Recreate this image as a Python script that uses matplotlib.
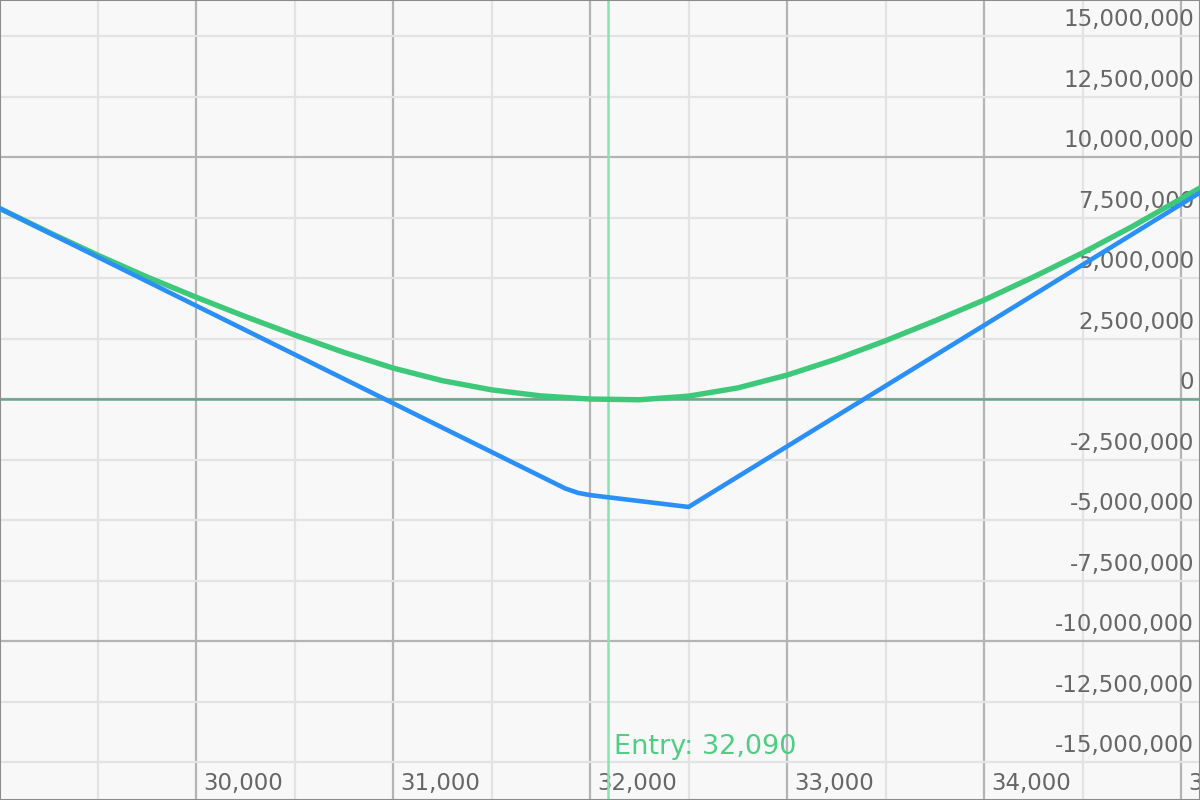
import matplotlib
matplotlib.use("Agg")
import matplotlib.pyplot as plt
from matplotlib.ticker import MultipleLocator

# underlying price grid and the two P&L curves (values in millions)
prices_now = [29000, 29250, 29500, 29750, 30000, 30250, 30500, 30750, 31000,
              31250, 31500, 31750, 32000, 32250, 32500, 32750, 33000, 33250,
              33500, 33750, 34000, 34250, 34500, 34750, 35000, 35100]
pnl_now = [7.89, 6.90, 5.95, 5.05, 4.21, 3.41, 2.65, 1.93, 1.28,
           0.76, 0.38, 0.13, 0.00, -0.03, 0.12, 0.46, 0.99, 1.65,
           2.41, 3.23, 4.09, 5.04, 6.04, 7.12, 8.28, 8.74]

prices_exp = [29000, 31875, 31940, 32000, 32500, 35100]
pnl_exp = [7.89, -3.70, -3.88, -3.97, -4.46, 8.55]

entry_price = 32090
y_labels = [-15, -12.5, -10, -7.5, -5, -2.5, 0, 2.5, 5, 7.5, 10, 12.5, 15]
x_labels = [30000, 31000, 32000, 33000, 34000, 35000]

fig = plt.figure(figsize=(12, 8), dpi=100)
ax = fig.add_axes([0, 0, 1, 1])
ax.set_facecolor("#f8f8f8")
fig.patch.set_facecolor("#f8f8f8")

ax.set_xlim(29005, 35096)
ax.set_ylim(-16.57, 16.49)

# grid: darker every 1000 / 10M, lighter every 500 / 2.5M
ax.xaxis.set_major_locator(MultipleLocator(1000))
ax.xaxis.set_minor_locator(MultipleLocator(500))
ax.yaxis.set_major_locator(MultipleLocator(10))
ax.yaxis.set_minor_locator(MultipleLocator(2.5))
ax.grid(which="major", color="#b4b4b4", lw=1.6, zorder=0)
ax.grid(which="minor", color="#e3e3e3", lw=1.6, zorder=0)
ax.set_axisbelow(True)
ax.tick_params(which="both", length=0, labelbottom=False, labelleft=False)

for s in ax.spines.values():
    s.set_color("#8c8c8c")
    s.set_linewidth(1.5)

# tick labels drawn inside the plot area
for v in y_labels:
    ax.annotate(f"{v * 1e6:,.0f}", xy=(1, v), xycoords=("axes fraction", "data"),
                xytext=(-6, 5), textcoords="offset pixels", ha="right", va="bottom",
                fontsize=16.5, color="#666666", zorder=1)
for p in x_labels:
    ax.annotate(f"{p:,}", xy=(p, 0), xycoords=("data", "axes fraction"),
                xytext=(7, 5), textcoords="offset pixels", ha="left", va="bottom",
                fontsize=16.5, color="#666666", zorder=1)

ax.axhline(0, color="#6aa88a", lw=1.8, zorder=2)
ax.axvline(entry_price, color="#8fe0b0", lw=1.8, zorder=2)
ax.annotate(f"Entry: {entry_price:,}", xy=(entry_price, 0),
            xycoords=("data", "axes fraction"), xytext=(6, 40),
            textcoords="offset pixels", ha="left", va="bottom",
            fontsize=19.5, color="#4ccf82", zorder=2)

ax.plot(prices_now, pnl_now, color="#3ec97a", lw=3.9, zorder=3,
        solid_joinstyle="round")
ax.plot(prices_exp, pnl_exp, color="#2a8ff7", lw=3.3, zorder=4,
        solid_joinstyle="round")

fig.savefig("out.png", dpi=100, facecolor=fig.get_facecolor())
